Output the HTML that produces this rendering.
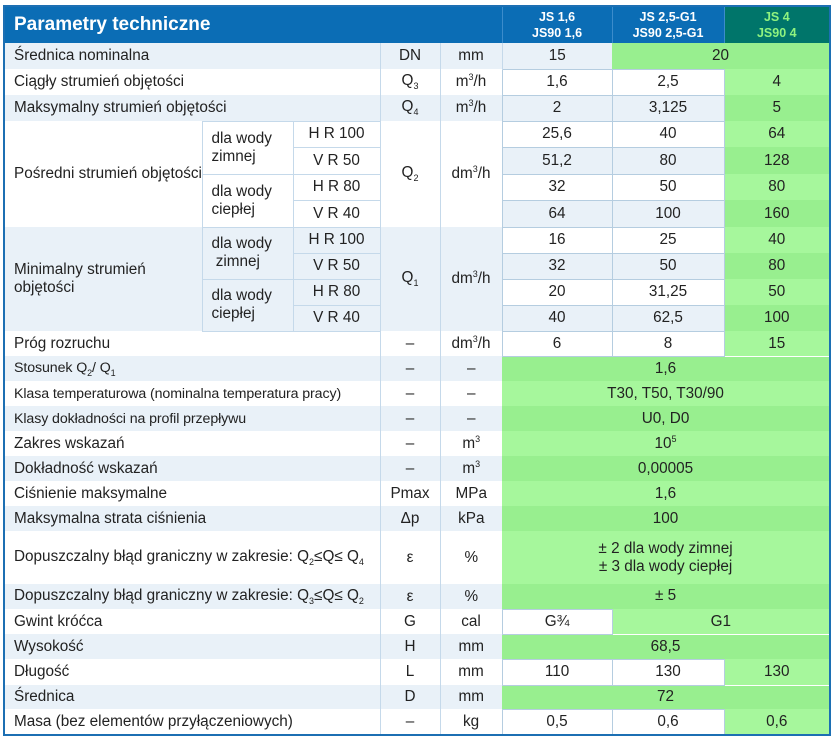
<!DOCTYPE html>
<html><head><meta charset="utf-8"><style>
html,body{margin:0;padding:0;background:#fff;width:833px;height:739px;overflow:hidden}
table{position:absolute;left:3px;top:5px;border-collapse:collapse;table-layout:fixed;width:826px;font-family:"Liberation Sans",sans-serif;font-size:15.3px;color:#222;border:2px solid #1c6fb3}
td{padding:0;text-align:center;vertical-align:middle;white-space:nowrap;overflow:hidden}
td.l{text-align:left;padding-left:9px}
tr.b td{background:#e9f1f8}
tr.w td{background:#fff}
td.v{border-left:1px solid #c5d9ea}
td.wd{background:#fff !important;border:1px solid #b5cde0}
tr.b td.wd{background:#e9f1f8 !important}
tr.w td.g, td.g{background:#a6f79c !important}
tr.b td.g{background:#98ef8f !important}
td.sub{border:1px solid #c5d9ea}
.c{font-size:14.2px;letter-spacing:-0.1px}
th{background:#0b6db5;color:#fff;font-size:12.5px;font-weight:bold;line-height:16px;padding:0;border-left:1px solid #3c8ccb}
th.t{text-align:left;padding-left:9px;font-size:19px;border-left:none}
th.j4{background:#00756a;color:#8ff27f}
sub,sup{font-size:9px}
</style></head><body>
<table>
<colgroup><col style="width:198px"><col style="width:91px"><col style="width:87px"><col style="width:60px"><col style="width:62px"><col style="width:110px"><col style="width:112px"><col style="width:106px"></colgroup>
<tr style="height:37px"><th class="t" colspan="5">Parametry techniczne</th><th>JS 1,6<br>JS90 1,6</th><th>JS 2,5-G1<br>JS90 2,5-G1</th><th class="j4">JS 4<br>JS90 4</th></tr>
<tr class="b" style="height:26px"><td class="l" colspan="3">Średnica nominalna</td><td class="v">DN</td><td class="v">mm</td><td class="v">15</td><td class="g" colspan="2">20</td></tr>
<tr class="w" style="height:26px"><td class="l" colspan="3">Ciągły strumień objętości</td><td class="v">Q<sub>3</sub></td><td class="v">m<sup>3</sup>/h</td><td class="wd">1,6</td><td class="wd">2,5</td><td class="g">4</td></tr>
<tr class="b" style="height:26px"><td class="l" colspan="3">Maksymalny strumień objętości</td><td class="v">Q<sub>4</sub></td><td class="v">m<sup>3</sup>/h</td><td class="wd">2</td><td class="wd">3,125</td><td class="g">5</td></tr>
<tr class="w" style="height:26px"><td class="l" rowspan="4" style="background:#fff">Pośredni strumień objętości</td><td class="l sub" rowspan="2" style="background:#fff">dla wody<br>zimnej</td><td class="sub">H R 100</td><td class="v" rowspan="4" style="background:#fff">Q<sub>2</sub></td><td class="v" rowspan="4" style="background:#fff">dm<sup>3</sup>/h</td><td class="wd">25,6</td><td class="wd">40</td><td class="g">64</td></tr>
<tr class="b" style="height:27px"><td class="sub" style="background:#fff">V R 50</td><td class="wd">51,2</td><td class="wd">80</td><td class="g">128</td></tr>
<tr class="w" style="height:26px"><td class="l sub" rowspan="2">dla wody<br>ciepłej</td><td class="sub">H R 80</td><td class="wd">32</td><td class="wd">50</td><td class="g">80</td></tr>
<tr class="b" style="height:27px"><td class="sub" style="background:#fff">V R 40</td><td class="wd">64</td><td class="wd">100</td><td class="g">160</td></tr>
<tr class="w" style="height:26px"><td class="l" rowspan="4" style="background:#e9f1f8">Minimalny strumień<br>objętości</td><td class="l sub" rowspan="2" style="background:#e9f1f8">dla wody<br>&nbsp;zimnej</td><td class="sub" style="background:#e9f1f8">H R 100</td><td class="v" rowspan="4" style="background:#e9f1f8">Q<sub>1</sub></td><td class="v" rowspan="4" style="background:#e9f1f8">dm<sup>3</sup>/h</td><td class="wd">16</td><td class="wd">25</td><td class="g">40</td></tr>
<tr class="b" style="height:26px"><td class="sub">V R 50</td><td class="wd">32</td><td class="wd">50</td><td class="g">80</td></tr>
<tr class="w" style="height:26px"><td class="l sub" rowspan="2" style="background:#e9f1f8">dla wody<br>ciepłej</td><td class="sub" style="background:#e9f1f8">H R 80</td><td class="wd">20</td><td class="wd">31,25</td><td class="g">50</td></tr>
<tr class="b" style="height:26px"><td class="sub">V R 40</td><td class="wd">40</td><td class="wd">62,5</td><td class="g">100</td></tr>
<tr class="w" style="height:25px"><td class="l" colspan="3">Próg rozruchu</td><td class="v">–</td><td class="v">dm<sup>3</sup>/h</td><td class="wd">6</td><td class="wd">8</td><td class="g">15</td></tr>
<tr class="b" style="height:25px"><td class="l c" colspan="3">Stosunek Q<sub>2</sub>/ Q<sub>1</sub></td><td class="v">–</td><td class="v">–</td><td class="g" colspan="3">1,6</td></tr>
<tr class="w" style="height:25px"><td class="l c" colspan="3">Klasa temperaturowa (nominalna temperatura pracy)</td><td class="v">–</td><td class="v">–</td><td class="g" colspan="3">T30, T50, T30/90</td></tr>
<tr class="b" style="height:25px"><td class="l c" colspan="3">Klasy dokładności na profil przepływu</td><td class="v">–</td><td class="v">–</td><td class="g" colspan="3">U0, D0</td></tr>
<tr class="w" style="height:25px"><td class="l" colspan="3">Zakres wskazań</td><td class="v">–</td><td class="v">m<sup>3</sup></td><td class="g" colspan="3">10<sup>5</sup></td></tr>
<tr class="b" style="height:25px"><td class="l" colspan="3">Dokładność wskazań</td><td class="v">–</td><td class="v">m<sup>3</sup></td><td class="g" colspan="3">0,00005</td></tr>
<tr class="w" style="height:25px"><td class="l" colspan="3">Ciśnienie maksymalne</td><td class="v">Pmax</td><td class="v">MPa</td><td class="g" colspan="3">1,6</td></tr>
<tr class="b" style="height:25px"><td class="l" colspan="3">Maksymalna strata ciśnienia</td><td class="v">Δp</td><td class="v">kPa</td><td class="g" colspan="3">100</td></tr>
<tr class="w" style="height:53px"><td class="l" colspan="3">Dopuszczalny błąd graniczny w zakresie: Q<sub>2</sub>≤Q≤ Q<sub>4</sub></td><td class="v">ε</td><td class="v">%</td><td class="g" colspan="3">± 2 dla wody zimnej<br>± 3 dla wody ciepłej</td></tr>
<tr class="b" style="height:25px"><td class="l" colspan="3">Dopuszczalny błąd graniczny w zakresie: Q<sub>3</sub>≤Q≤ Q<sub>2</sub></td><td class="v">ε</td><td class="v">%</td><td class="g" colspan="3">± 5</td></tr>
<tr class="w" style="height:25px"><td class="l" colspan="3">Gwint króćca</td><td class="v">G</td><td class="v">cal</td><td class="wd">G¾</td><td class="g" colspan="2">G1</td></tr>
<tr class="b" style="height:25px"><td class="l" colspan="3">Wysokość</td><td class="v">H</td><td class="v">mm</td><td class="g" colspan="3">68,5</td></tr>
<tr class="w" style="height:26px"><td class="l" colspan="3">Długość</td><td class="v">L</td><td class="v">mm</td><td class="wd">110</td><td class="wd">130</td><td class="g">130</td></tr>
<tr class="b" style="height:24px"><td class="l" colspan="3">Średnica</td><td class="v">D</td><td class="v">mm</td><td class="g" colspan="3">72</td></tr>
<tr class="w" style="height:26px"><td class="l" colspan="3">Masa (bez elementów przyłączeniowych)</td><td class="v">–</td><td class="v">kg</td><td class="wd">0,5</td><td class="wd">0,6</td><td class="g">0,6</td></tr>
</table>
</body></html>
